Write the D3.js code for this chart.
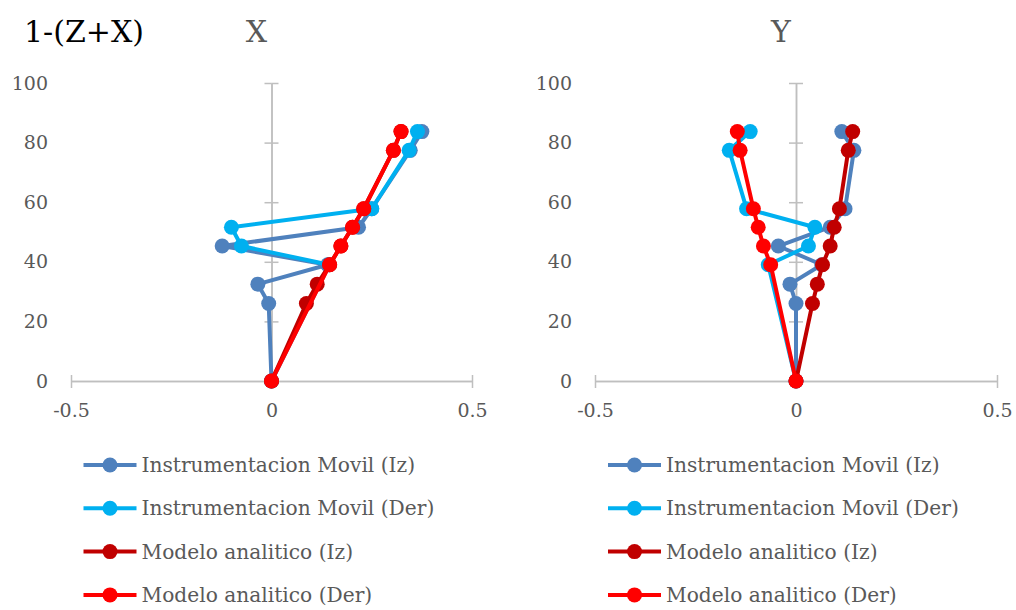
<!DOCTYPE html>
<html>
<head>
<meta charset="utf-8">
<script src="https://cdn.jsdelivr.net/npm/d3@7/dist/d3.min.js"></script>
<style>
  html, body { margin: 0; padding: 0; background: #fff; }
  svg { display: block; }
  text { font-family: "DejaVu Serif", "Liberation Serif", serif; }
</style>
</head>
<body>
<svg id="chart" width="1016" height="610"></svg>
<script>
// ---------- data ----------
const seriesNames = ["Instrumentacion Movil (Iz)", "Instrumentacion Movil (Der)", "Modelo analitico (Iz)", "Modelo analitico (Der)"];
const seriesColors = ["#4F81BD", "#00B0F0", "#C00000", "#FF0000"];
const heightsIz = [0, 26, 32.5, 39, 45.3, 51.6, 57.8, 77.4, 83.7];
const heightsDer = [0, 39, 45.3, 51.6, 57.8, 77.4, 83.7];

// Panel X
const instIzX  = [0, -0.007, -0.034, 0.140, -0.123, 0.217, 0.250, 0.346, 0.375];
const instDerX = [0, 0.144, -0.075, -0.100, 0.250, 0.343, 0.364];
const modIzX   = [0, 0.087, 0.114, 0.145, 0.173, 0.202, 0.230, 0.304, 0.323];
const modDerX  = [0, 0.145, 0.173, 0.202, 0.230, 0.304, 0.323];

// Panel Y
const instIzY  = [0, 0, -0.015, 0.064, -0.044, 0.085, 0.122, 0.144, 0.114];
const instDerY = [0, -0.069, 0.031, 0.047, -0.123, -0.166, -0.114];
const modIzY   = [0, 0.041, 0.053, 0.066, 0.085, 0.095, 0.108, 0.130, 0.141];
const modDerY  = [0, -0.063, -0.081, -0.094, -0.106, -0.139, -0.146];

const xTicks = [-0.5, 0, 0.5];
const xTickLabels = ["-0.5", "0", "0.5"];
const yTicks = [0, 20, 40, 60, 80, 100];
const mainTitle = "1-(Z+X)";
const panelTitles = ["X", "Y"];

// ---------- drawing ----------
const svg = d3.select("#chart");
const panels = [
  { title: panelTitles[0], left: 71, right: 472,
    series: [[instIzX, heightsIz], [instDerX, heightsDer], [modIzX, heightsIz], [modDerX, heightsDer]] },
  { title: panelTitles[1], left: 595, right: 997,
    series: [[instIzY, heightsIz], [instDerY, heightsDer], [modIzY, heightsIz], [modDerY, heightsDer]] }
];

const y = d3.scaleLinear().domain([0, 100]).range([381, 83]);
const axisColor = "#BFBFBF";
const labelColor = "#595959";

svg.append("text").attr("x", 24).attr("y", 42)
  .attr("font-size", 30).attr("fill", "#000").text(mainTitle);

panels.forEach((p, pi) => {
  const x = d3.scaleLinear().domain([-0.5, 0.5]).range([p.left, p.right]);
  const g = svg.append("g");

  // title
  g.append("text").attr("x", x(0) - 15).attr("y", 42).attr("text-anchor", "middle")
    .attr("font-size", 30).attr("fill", labelColor).text(p.title);

  // horizontal axis (line + crossing ticks)
  const xAxisG = g.append("g").attr("transform", `translate(0,${y(0)})`);
  xAxisG.append("g").call(d3.axisBottom(x).tickValues(xTicks).tickSize(7).tickFormat("").tickSizeOuter(0));
  xAxisG.append("g").call(d3.axisTop(x).tickValues(xTicks).tickSize(6).tickFormat("").tickSizeOuter(0));
  xAxisG.selectAll("path, line").attr("stroke", axisColor).attr("stroke-width", 1.5);

  // x tick labels
  const xl = g.append("g").attr("transform", `translate(0,${y(0) + 22})`)
    .call(d3.axisBottom(x).tickValues(xTicks).tickSize(0).tickFormat((d, i) => xTickLabels[i]));
  xl.select(".domain").remove();
  xl.selectAll("text").attr("font-size", 19).attr("fill", labelColor)
    .attr("font-family", "DejaVu Serif").attr("dy", "0.75em").attr("y", 0);

  // vertical axis at x=0
  const yAxisG = g.append("g").attr("transform", `translate(${x(0)},0)`);
  yAxisG.append("g").call(d3.axisLeft(y).tickValues(yTicks).tickSize(7).tickFormat("").tickSizeOuter(0));
  yAxisG.append("g").call(d3.axisRight(y).tickValues(yTicks).tickSize(7).tickFormat("").tickSizeOuter(0));
  yAxisG.selectAll("path, line").attr("stroke", axisColor).attr("stroke-width", 1.5);

  // y tick labels at left
  const yl = g.append("g").attr("transform", `translate(${p.left - 23},0)`)
    .call(d3.axisLeft(y).tickValues(yTicks).tickSize(0).tickPadding(0));
  yl.select(".domain").remove();
  yl.selectAll("text").attr("font-size", 19).attr("fill", labelColor)
    .attr("font-family", "DejaVu Serif");

  // series
  const line = d3.line().x(d => x(d[0])).y(d => y(d[1]));
  p.series.forEach((s, si) => {
    const pts = s[0].map((v, i) => [v, s[1][i]]);
    const sg = g.append("g");
    sg.append("path").datum(pts).attr("d", line).attr("fill", "none")
      .attr("stroke", seriesColors[si]).attr("stroke-width", 4).attr("stroke-linejoin", "round");
    sg.selectAll("circle").data(pts).join("circle")
      .attr("cx", d => x(d[0])).attr("cy", d => y(d[1])).attr("r", 7.5)
      .attr("fill", seriesColors[si]);
  });

  // legend
  const legendX = x(0) - 188;
  const lg = g.append("g");
  seriesNames.forEach((name, i) => {
    const ly = 465 + i * 43.3;
    lg.append("line").attr("x1", legendX).attr("x2", legendX + 53).attr("y1", ly).attr("y2", ly)
      .attr("stroke", seriesColors[i]).attr("stroke-width", 4);
    lg.append("circle").attr("cx", legendX + 26.5).attr("cy", ly).attr("r", 7.5).attr("fill", seriesColors[i]);
    lg.append("text").attr("x", legendX + 58).attr("y", ly).attr("dy", "0.35em")
      .attr("font-size", 20.2).attr("fill", labelColor).text(name);
  });
});
</script>
</body>
</html>
